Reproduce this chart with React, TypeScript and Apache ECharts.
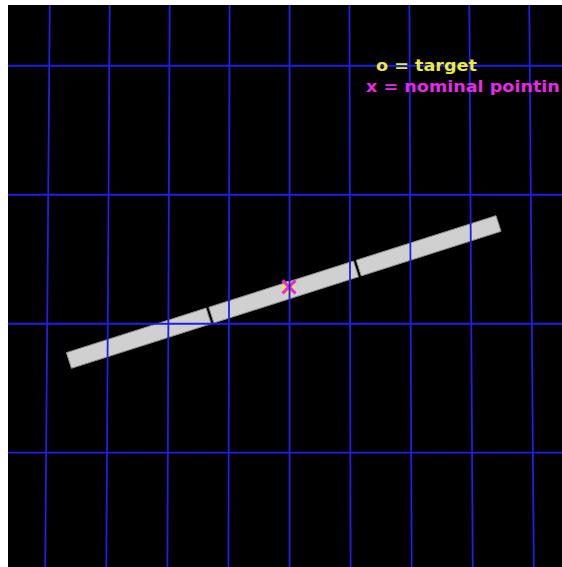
import React, { useEffect, useRef } from "react";
import * as echarts from "echarts";

// Sky offsets in arcsec relative to the target (x to the right, y up)
const raLines = [-18.72, -14.03, -9.34, -4.65, 0.04, 4.73, 9.42, 14.11, 18.8]; // meridian offsets at y = 0
const decLines = [17.15, 7.15, -2.85, -12.85]; // parallels
const convergenceDist = 2330; // distance (arcsec) to the point where meridians converge (above)

// Slit / detector footprint: three segments along its length (arcsec from left end)
const slitCenter = [-0.41, -0.39];
const slitLength = 34.95;
const slitWidth = 1.28;
const slitAngleDeg = 17.69;
const segmentStarts = [0, 11.59, 23.58];
const segmentEnds = [11.36, 23.35, 34.95];

const targetPos = [[-0.04, -0.06]];
const pointingPos = [[0, 0]];

const legendLabels = ["o = target", "x = nominal pointin"];

const xMin = -21.78;
const xMax = 21.16;
const yMin = -21.71;
const yMax = 21.86;

export default function App() {
  const ref = useRef<HTMLDivElement>(null);

  useEffect(() => {
    document.body.style.margin = "0";
    document.body.style.overflow = "hidden";
    if (!ref.current) return;
    const chart = echarts.init(ref.current, null, { renderer: "svg" });
    const ang = (slitAngleDeg * Math.PI) / 180;
    const ux = Math.cos(ang);
    const uy = Math.sin(ang);
    const nx = -uy;
    const ny = ux;
    const x0 = slitCenter[0] - (ux * slitLength) / 2;
    const y0 = slitCenter[1] - (uy * slitLength) / 2;
    const gridColor = "#1f1fe8";

    const option: any = {
      animation: false,
      backgroundColor: "#000000",
      grid: { left: 0, right: 0, top: 0, bottom: 0 },
      xAxis: { type: "value", min: xMin, max: xMax, show: false },
      yAxis: { type: "value", min: yMin, max: yMax, show: false },
      series: [
        {
          type: "custom",
          name: "slit",
          z: 1,
          data: segmentStarts.map((s, i) => [s, segmentEnds[i]]),
          renderItem: (params: any, api: any) => {
            const s = api.value(0);
            const e = api.value(1);
            const hw = slitWidth / 2;
            const pts = [
              [x0 + ux * s + nx * hw, y0 + uy * s + ny * hw],
              [x0 + ux * e + nx * hw, y0 + uy * e + ny * hw],
              [x0 + ux * e - nx * hw, y0 + uy * e - ny * hw],
              [x0 + ux * s - nx * hw, y0 + uy * s - ny * hw],
            ].map((p) => api.coord(p));
            return {
              type: "polygon",
              shape: { points: pts },
              style: { fill: "#d0d0d0", stroke: "#909090", lineWidth: 1 },
            };
          },
        },
        {
          type: "custom",
          name: "target",
          z: 2,
          data: targetPos,
          renderItem: (params: any, api: any) => {
            const p = api.coord([api.value(0), api.value(1)]);
            return {
              type: "circle",
              z2: 5,
              shape: { cx: p[0], cy: p[1], r: 6.5 },
              style: { fill: "#f0e83c" },
            };
          },
        },
        {
          type: "custom",
          name: "pointing",
          z: 3,
          data: pointingPos,
          renderItem: (params: any, api: any) => {
            const p = api.coord([api.value(0), api.value(1)]);
            const h = 6.5;
            const st = { stroke: "#e62be6", lineWidth: 3.2 };
            return {
              type: "group",
              children: [
                { type: "line", shape: { x1: p[0] - h, y1: p[1] - h, x2: p[0] + h, y2: p[1] + h }, style: st },
                { type: "line", shape: { x1: p[0] + h, y1: p[1] - h, x2: p[0] - h, y2: p[1] + h }, style: st },
              ],
            };
          },
        },
        {
          type: "custom",
          name: "meridians",
          z: 4,
          data: raLines.map((v) => [v, 0]),
          renderItem: (params: any, api: any) => {
            const v = api.value(0);
            const top = api.coord([(v * (convergenceDist - yMax)) / convergenceDist, yMax]);
            const bot = api.coord([(v * (convergenceDist - yMin)) / convergenceDist, yMin]);
            return {
              type: "line",
              shape: { x1: top[0], y1: top[1], x2: bot[0], y2: bot[1] },
              style: { stroke: gridColor, lineWidth: 1.8 },
            };
          },
        },
        {
          type: "custom",
          name: "parallels",
          z: 4,
          data: decLines.map((v) => [0, v]),
          renderItem: (params: any, api: any) => {
            const v = api.value(1);
            const a = api.coord([xMin, v]);
            const b = api.coord([xMax, v]);
            return {
              type: "line",
              shape: { x1: a[0], y1: a[1], x2: b[0], y2: b[1] },
              style: { stroke: gridColor, lineWidth: 1.8 },
            };
          },
        },
      ],
      graphic: [
        {
          type: "text",
          x: 368,
          y: 60,
          scaleX: 1.1,
          z: 10,
          style: {
            text: legendLabels[0],
            fill: "#eaea3c",
            font: 'bold 16px "DejaVu Sans"',
            textAlign: "left",
            textVerticalAlign: "middle",
            verticalAlign: "middle",
          },
        },
        {
          type: "text",
          x: 358,
          y: 81.5,
          scaleX: 1.1,
          z: 10,
          style: {
            text: legendLabels[1],
            fill: "#e62be6",
            font: 'bold 16px "DejaVu Sans"',
            textAlign: "left",
            textVerticalAlign: "middle",
            verticalAlign: "middle",
          },
        },
      ],
    };
    chart.setOption(option);
    return () => chart.dispose();
  }, []);

  return (
    <div
      ref={ref}
      style={{
        position: "absolute",
        left: 8,
        top: 5,
        width: 554,
        height: 562,
        overflow: "hidden",
        background: "#000",
      }}
    />
  );
}
